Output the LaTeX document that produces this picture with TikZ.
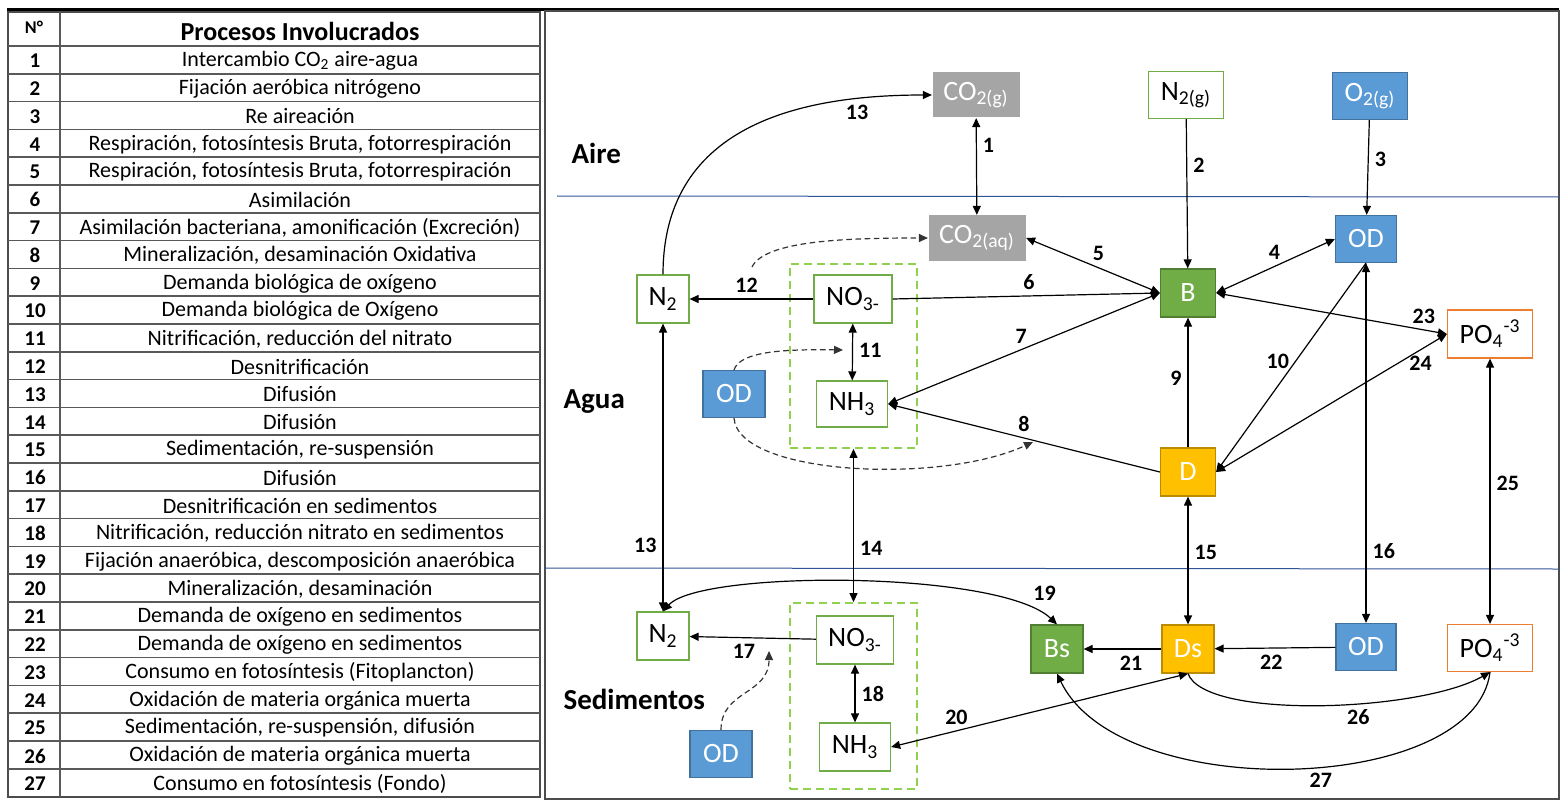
\documentclass[tikz,border=0pt]{standalone}
\usepackage{fontspec}
\setmainfont{Carlito}
\usetikzlibrary{arrows.meta}

\definecolor{gris}{HTML}{A5A5A5}
\definecolor{azul}{HTML}{5B9BD5}
\definecolor{azulb}{HTML}{41719C}
\definecolor{verde}{HTML}{70AD47}
\definecolor{verdeb}{HTML}{507E32}
\definecolor{amarillo}{HTML}{FFC000}
\definecolor{amarillob}{HTML}{BC8C00}
\definecolor{naranja}{HTML}{ED7D31}
\definecolor{verdec}{HTML}{92D050}
\definecolor{linea}{HTML}{2F5597}

\begin{document}
\begin{tikzpicture}[x=0.5pt, y=-0.5pt, line width=0.6pt,
	>={Triangle[length=4.5pt, width=4pt]},
	caja/.style={inner sep=0pt, minimum height=24pt, font=\fontsize{14}{15}\selectfont},
	gasbox/.style={caja, fill=gris, text=white, minimum height=22.5pt},
	odbox/.style={caja, fill=azul, draw=azulb, text=white, minimum height=23.5pt},
	bbox/.style={caja, fill=verde, draw=verdeb, text=white, minimum width=27.5pt},
	dbox/.style={caja, fill=amarillo, draw=amarillob, text=white, minimum width=27.5pt},
	nbox/.style={caja, draw=verde, fill=white},
	pbox/.style={caja, draw=naranja, fill=white, minimum width=42.5pt},
	zona/.style={draw=verdec, dash pattern=on 4pt off 2.5pt, line width=0.9pt, minimum width=63.5pt, inner sep=0pt},
	num/.style={font=\bfseries\fontsize{11}{12}\selectfont, inner sep=3pt},
	punteada/.style={dash pattern=on 2.8pt off 1.8pt, draw=black!80},
	medio/.style={font=\bfseries\fontsize{14.5}{16}\selectfont, inner sep=0pt, anchor=west}]
	\useasboundingbox (0,0) rectangle (1561,802);

	% tabla de procesos
	\draw [black!70, line width=1.2pt] (8,12) rectangle (540,797);
	\draw [black!65, line width=0.8pt] (60,12) -- (60,797);
	\foreach \i in {0,...,26}
		\draw [black!65, line width=0.8pt] (8,{46+27.8*\i}) -- (540,{46+27.8*\i});
	\node (nro) [font=\bfseries\fontsize{9}{10}\selectfont] at (34,27) {N°};
	\node (proc) [font=\bfseries\fontsize{13}{14}\selectfont] at (300,31) {Procesos Involucrados};
	\foreach \fila/\proceso in {
		1/{Intercambio CO\textsubscript{2} aire-agua},
		2/{Fijación aeróbica nitrógeno},
		3/{Re aireación},
		4/{Respiración, fotosíntesis Bruta, fotorrespiración},
		5/{Respiración, fotosíntesis Bruta, fotorrespiración},
		6/{Asimilación},
		7/{Asimilación bacteriana, amonificación (Excreción)},
		8/{Mineralización, desaminación Oxidativa},
		9/{Demanda biológica de oxígeno},
		10/{Demanda biológica de Oxígeno},
		11/{Nitrificación, reducción del nitrato},
		12/{Desnitrificación},
		13/{Difusión},
		14/{Difusión},
		15/{Sedimentación, re-suspensión},
		16/{Difusión},
		17/{Desnitrificación en sedimentos},
		18/{Nitrificación, reducción nitrato en sedimentos},
		19/{Fijación anaeróbica, descomposición anaeróbica},
		20/{Mineralización, desaminación},
		21/{Demanda de oxígeno en sedimentos},
		22/{Demanda de oxígeno en sedimentos},
		23/{Consumo en fotosíntesis (Fitoplancton)},
		24/{Oxidación de materia orgánica muerta},
		25/{Sedimentación, re-suspensión, difusión},
		26/{Oxidación de materia orgánica muerta},
		27/{Consumo en fotosíntesis (Fondo)}} {
		\node (n\fila) [font=\bfseries\fontsize{10.5}{11}\selectfont] at (35,{47+27.8*(\fila-0.5)}) {\fila};
		\node (t\fila) [font=\fontsize{11}{12}\selectfont] at (300,{47+27.8*(\fila-0.5)}) {\proceso};
	}

	% marco del esquema
	\draw [line width=1.5pt] (7,10) -- (1559,10);
	\draw [black!70] (545,11) rectangle (1559,799);
	\draw [linea, line width=0.5pt] (557,196) -- (1559,197);
	\draw [linea, line width=0.5pt] (545,568) -- (1559,569);
	\node (aire) [medio] at (571,153) {Aire};
	\node (agua) [medio] at (563,402) {Agua};
	\node (sedim) [medio] at (563,699) {Sedimentos};

	% aire
	\node (co2g) [gasbox, minimum width=43.5pt] at (976,95) {CO\textsubscript{2(g)}};
	\node (n2g) [nbox, minimum width=37.5pt, minimum height=23.5pt] at (1186,95) {N\textsubscript{2(g)}};
	\node (o2g) [odbox, minimum width=37.5pt] at (1370,96) {O\textsubscript{2(g)}};

	% agua
	\node (co2aq) [gasbox, minimum width=48.5pt] at (977,238) {CO\textsubscript{2(aq)}};
	\node (odw) [odbox, minimum width=30.5pt] at (1366,239) {OD};
	\node (b) [bbox] at (1188,293) {B};
	\node (po4w) [pbox] at (1490,334) {PO\textsubscript{4}\textsuperscript{-3}};
	\node (d) [dbox] at (1188,472) {D};
	\node (n2w) [nbox, minimum width=26pt] at (663,299) {N\textsubscript{2}};
	\node (no3w) [nbox, minimum width=39pt] at (853,299) {NO\textsubscript{3-}};
	\node (nh3w) [nbox, minimum width=35.5pt, minimum height=23pt] at (852,404) {NH\textsubscript{3}};
	\node (odl) [odbox, minimum width=31pt] at (734,394) {OD};
	\node (cajaw) [zona, minimum height=92pt] at (853.5,356) {};

	% sedimentos
	\node (n2s) [nbox, minimum width=26pt] at (663,636) {N\textsubscript{2}};
	\node (no3s) [nbox, minimum width=38.5pt] at (855,640) {NO\textsubscript{3-}};
	\node (nh3s) [nbox, minimum width=35.5pt] at (855,747) {NH\textsubscript{3}};
	\node (ods) [odbox, minimum width=31pt] at (721,754) {OD};
	\node (cajas) [zona, minimum height=93pt] at (853.5,696) {};
	\node (bs) [bbox, minimum width=26pt] at (1057,649) {Bs};
	\node (ds) [dbox, minimum width=26pt] at (1188,649) {Ds};
	\node (odsed) [odbox, minimum width=30pt] at (1366,647) {OD};
	\node (po4s) [pbox, minimum height=23.5pt] at (1490,648) {PO\textsubscript{4}\textsuperscript{-3}};

	% flujos en aire y agua
	\draw [<->] (co2g) -- (co2aq) node (l1) [num, right, pos=.28] {1};
	\draw [->] (n2g) -- (b) node (l2) [num, right, pos=.31] {2};
	\draw [->] (o2g) -- (odw) node (l3) [num, right, pos=.41] {3};
	\draw [<->] (b.east) -- (odw.west) node (l4) [num, above, pos=.49] {4};
	\draw [<->] (co2aq.east) -- (b.west) node (l5) [num, above, pos=.54] {5};
	\draw [->] (no3w.east) -- (b.west) node (l6) [num, above, pos=.51] {6};
	\draw [<->] (nh3w.east) -- (b.west) node (l7) [num, above, pos=.49] {7};
	\draw [->] (d.west) -- (nh3w.east) node (l8) [num, above, pos=.5] {8};
	\draw [->] (d) -- (b) node (l9) [num, left, pos=.53] {9};
	\draw [->] (odw.south) -- (d.east) node (l10) [num, left, pos=.47] {10};
	\draw [<->] (no3w) -- (nh3w) node (l11) [num, right, pos=.47] {11};
	\draw [->] (no3w) -- (n2w) node (l12) [num, above, pos=.54] {12};
	\draw [->] (n2w.north) .. controls (663,120) and (810,95) .. (co2g.west) node (l13a) [num, below, pos=.8] {13};
	\draw [<->] (po4w.west) -- (b.east) node (l23) [num, above, pos=.1] {23};
	\draw [<->] (d.east) -- (po4w.west) node (l24) [num, below, pos=.886] {24};

	% entre agua y sedimentos
	\draw [<->] (n2w) -- (n2s) node (l13b) [num, left, pos=.77] {13};
	\draw [<->] (cajaw) -- (cajas) node (l14) [num, right, pos=.65] {14};
	\draw [<->] (d) -- (ds) node (l15) [num, right, pos=.44] {15};
	\draw [<->] (odw) -- (odsed) node (l16) [num, right, pos=.8] {16};
	\draw [<->] (po4w) -- (po4s) node (l25) [num, right, pos=.47] {25};

	% flujos en sedimentos
	\draw [->] (no3s) -- (n2s) node (l17) [num, below, pos=.57] {17};
	\draw [<->] (no3s) -- (nh3s) node (l18) [num, right, pos=.5] {18};
	\draw [<->] (n2s.north) .. controls (700,570) and (1000,570) .. (bs.north) node (l19) [num, above right, pos=.88] {19};
	\draw [<->] (nh3s.east) -- (ds.south) node (l20) [num, above, pos=.22] {20};
	\draw [->] (ds) -- (bs) node (l21) [num, below, pos=.39] {21};
	\draw [->] (odsed) -- (ds) node (l22) [num, below, pos=.53] {22};
	\draw [->] (ds.south) .. controls (1205,720) and (1420,712) .. (po4s.south) node (l26) [num, below, pos=.6] {26};
	\draw [->] (po4s.south) .. controls (1475,795) and (1120,805) .. (bs.south) node (l27) [num, below, pos=.45] {27};

	% oxigeno disuelto (punteadas)
	\coordinate (c12) at (752,267);
	\coordinate (c11) at (843,350);
	\coordinate (c8) at (1033,442);
	\coordinate (c17) at (769,651);
	\draw [punteada, ->] (c12) .. controls (765,240) and (850,238) .. (co2aq.west);
	\draw [punteada, ->] (odl.north) .. controls (740,352) and (780,349) .. (c11);
	\draw [punteada, ->] (odl.south) .. controls (738,475) and (940,485) .. (c8);
	\draw [punteada, ->] (ods.north) .. controls (721,690) and (769,695) .. (c17);

\end{tikzpicture}
\end{document}
